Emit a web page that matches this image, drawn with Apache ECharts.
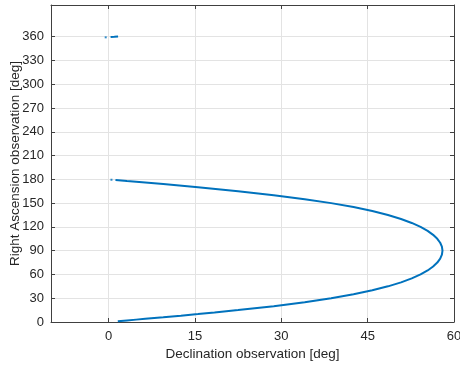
<!DOCTYPE html>
<html>
<head>
<meta charset="utf-8">
<script src="https://cdn.jsdelivr.net/npm/echarts@6/dist/echarts.min.js"></script>
<style>
  html, body { margin: 0; padding: 0; background: #fff; }
  #chart { width: 460px; height: 367px; }
</style>
</head>
<body>
<div id="chart"></div>
<script>
// Observed track: [declination (deg), right ascension (deg)]
const trackMain = [
  [1.60, 1], [3.20, 2], [4.79, 3], [6.37, 4], [9.50, 6], [12.56, 8],
  [15.53, 10], [18.40, 12], [22.50, 15], [28.69, 20], [34.07, 25],
  [38.66, 30], [42.55, 35], [45.81, 40], [48.53, 45], [50.80, 50],
  [52.66, 55], [54.19, 60], [55.42, 65], [56.37, 70], [57.10, 75],
  [57.60, 80], [57.90, 85], [58.00, 90], [57.90, 95], [57.60, 100],
  [57.10, 105], [56.37, 110], [55.42, 115], [54.19, 120], [52.66, 125],
  [50.80, 130], [48.53, 135], [45.81, 140], [42.55, 145], [38.66, 150],
  [34.07, 155], [28.69, 160], [22.50, 165], [15.53, 170], [9.50, 174],
  [4.79, 177], [3.20, 178], [1.20, 179.3]
];
// Short wrap-around pieces near 180 and 360 deg
const trackDots = [[0.5, 179.5], [-0.5, 359.2]];
const trackWrap = [[0.35, 359.6], [1.0, 359.9], [1.65, 360.3]];

// Axis ticks
const decTicks = [0, 15, 30, 45, 60];
const raTicks = [0, 30, 60, 90, 120, 150, 180, 210, 240, 270, 300, 330, 360];

const lineColor = '#0072BD';
const axisColor = '#404040';
const gridColor = '#e3e3e3';
const fontFamily = '"Liberation Sans", Arial, Helvetica, sans-serif';

function xAxisCfg(show, pos) {
  return {
    type: 'value', min: -10, max: 60, position: pos,
    name: show ? 'Declination observation [deg]' : '',
    nameLocation: 'middle', nameGap: 25, nameMoveOverlap: false,
    nameTextStyle: { color: '#262626', fontSize: 13.5, fontFamily },
    axisLine: { show: true, onZero: false, lineStyle: { color: axisColor, width: 1 } },
    axisTick: { show: true, inside: true, length: 4, customValues: decTicks, lineStyle: { color: axisColor } },
    axisLabel: { show: show, customValues: decTicks, color: '#262626', fontSize: 13, fontFamily, margin: 8 },
    splitLine: { show: show, lineStyle: { color: gridColor, width: 1 } }
  };
}
function yAxisCfg(show, pos) {
  return {
    type: 'value', min: 0, max: 400, position: pos,
    name: show ? 'Right Ascension observation [deg]' : '',
    nameLocation: 'middle', nameGap: 29, nameMoveOverlap: false,
    nameTextStyle: { color: '#262626', fontSize: 13.5, fontFamily },
    axisLine: { show: true, onZero: false, lineStyle: { color: axisColor, width: 1 } },
    axisTick: { show: true, inside: true, length: 4, customValues: raTicks, lineStyle: { color: axisColor } },
    axisLabel: { show: show, customValues: raTicks, color: '#262626', fontSize: 13, fontFamily, margin: 7 },
    splitLine: { show: show, lineStyle: { color: gridColor, width: 1 } }
  };
}

const chart = echarts.init(document.getElementById('chart'), null, { renderer: 'canvas' });
chart.setOption({
  animation: false,
  backgroundColor: '#ffffff',
  grid: { left: 51, right: 6, top: 5, bottom: 45, containLabel: false, outerBoundsMode: 'none' },
  xAxis: [xAxisCfg(true, 'bottom'), xAxisCfg(false, 'top')],
  yAxis: [yAxisCfg(true, 'left'), yAxisCfg(false, 'right')],
  series: [
    {
      type: 'line', data: trackMain, showSymbol: false, smooth: false,
      lineStyle: { color: lineColor, width: 2 }, z: 3
    },
    {
      type: 'line', data: trackWrap, showSymbol: false,
      lineStyle: { color: lineColor, width: 2 }, z: 3
    },
    {
      type: 'scatter', data: trackDots, symbol: 'rect', symbolSize: 2,
      itemStyle: { color: lineColor }, z: 3
    }
  ]
});
</script>
</body>
</html>
